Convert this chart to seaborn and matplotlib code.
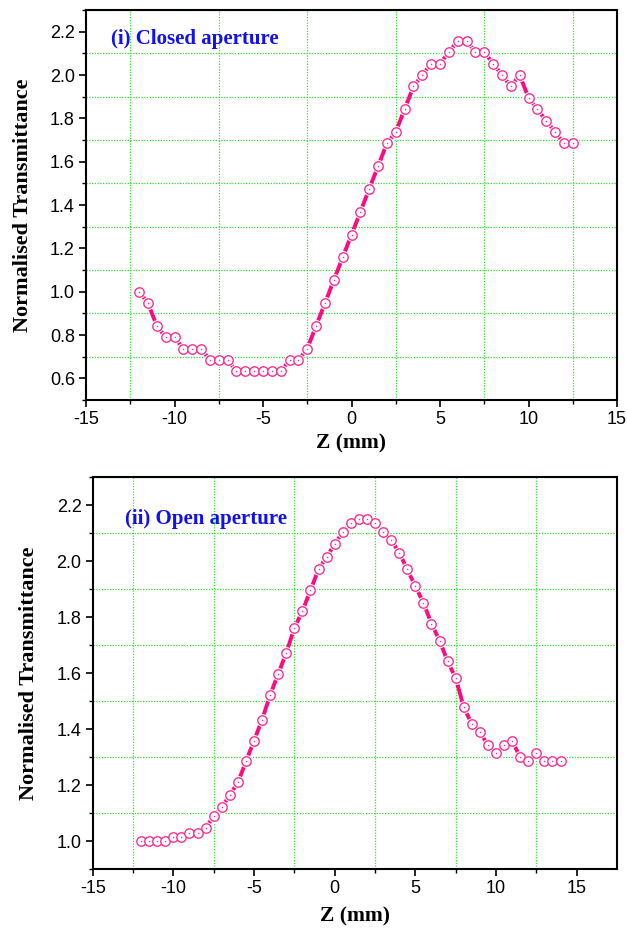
import matplotlib
matplotlib.use("Agg")
import numpy as np
import pandas as pd
import matplotlib.pyplot as plt
import seaborn as sns
from matplotlib.ticker import FixedLocator

# ---------------- data ----------------
z_closed = [-12, -11.5, -11, -10.5, -10, -9.5, -9, -8.5, -8, -7.5, -7, -6.5, -6, -5.5, -5,
            -4.5, -4, -3.5, -3, -2.5, -2, -1.5, -1, -0.5, 0, 0.5, 1, 1.5, 2, 2.5, 3, 3.5,
            4, 4.5, 5, 5.5, 6, 6.5, 7, 7.5, 8, 8.5, 9, 9.5, 10, 10.5, 11, 11.5, 12, 12.5]
t_closed = [1.000, 0.947, 0.842, 0.789, 0.789, 0.737, 0.737, 0.737, 0.684, 0.684, 0.684,
            0.632, 0.632, 0.632, 0.632, 0.632, 0.632, 0.684, 0.684, 0.737, 0.842, 0.947,
            1.053, 1.158, 1.263, 1.368, 1.474, 1.579, 1.684, 1.737, 1.842, 1.947, 2.000,
            2.053, 2.053, 2.105, 2.158, 2.158, 2.105, 2.105, 2.053, 2.000, 1.947, 2.000,
            1.895, 1.842, 1.789, 1.737, 1.684, 1.684]

z_open = [-12, -11.5, -11, -10.5, -10, -9.5, -9, -8.5, -8, -7.5, -7, -6.5, -6, -5.5, -5,
          -4.5, -4, -3.5, -3, -2.5, -2, -1.5, -1, -0.5, 0, 0.5, 1, 1.5, 2, 2.5, 3, 3.5,
          4, 4.5, 5, 5.5, 6, 6.5, 7, 7.5, 8, 8.5, 9, 9.5, 10, 10.5, 11, 11.5, 12, 12.5,
          13, 13.5, 14]
t_open = [1.000, 1.000, 1.000, 1.000, 1.015, 1.015, 1.030, 1.030, 1.045, 1.090, 1.120,
          1.164, 1.209, 1.284, 1.358, 1.433, 1.522, 1.597, 1.672, 1.761, 1.821, 1.896,
          1.970, 2.015, 2.060, 2.104, 2.134, 2.149, 2.149, 2.134, 2.104, 2.075, 2.030,
          1.970, 1.910, 1.851, 1.776, 1.716, 1.642, 1.582, 1.478, 1.418, 1.388, 1.343,
          1.313, 1.343, 1.358, 1.299, 1.284, 1.313, 1.284, 1.284, 1.284]

x_major = [-15, -10, -5, 0, 5, 10, 15]
x_minor = [-12.5, -7.5, -2.5, 2.5, 7.5, 12.5]
y_major_top = [0.6, 0.8, 1.0, 1.2, 1.4, 1.6, 1.8, 2.0, 2.2]
y_minor_top = [0.5, 0.7, 0.9, 1.1, 1.3, 1.5, 1.7, 1.9, 2.1, 2.3]
y_major_bot = [1.0, 1.2, 1.4, 1.6, 1.8, 2.0, 2.2]
y_minor_bot = [0.9, 1.1, 1.3, 1.5, 1.7, 1.9, 2.1, 2.3]

titles = ["(i) Closed aperture", "(ii) Open aperture"]
xlabel = "Z (mm)"
ylabel = "Normalised Transmittance"

LINE = "#FF0A80"
MARK = "#FF3090"
GRID = "#33E833"
TXT = "#1010F0"

sns.set_theme(style="white")
plt.rcParams["font.family"] = ["Liberation Sans", "DejaVu Sans"]
plt.rcParams["text.color"] = "black"
plt.rcParams["axes.labelcolor"] = "black"
plt.rcParams["xtick.color"] = "black"
plt.rcParams["ytick.color"] = "black"

fig = plt.figure(figsize=(6.27, 9.30), dpi=100)
W, H = 627.0, 930.0
ax1 = fig.add_axes([86 / W, 1 - 400 / H, (617 - 86) / W, 390 / H])
ax2 = fig.add_axes([92.7 / W, 1 - 869 / H, (617 - 92.7) / W, 392 / H])


def draw(ax, z, t, xlim, ylim, ymaj, ymin, title, tpos, ylab_x, xpad):
    df = pd.DataFrame({"z": z, "t": t})
    sns.lineplot(data=df, x="z", y="t", ax=ax, color=LINE, lw=2.8, sort=False, zorder=3)
    sns.scatterplot(data=df, x="z", y="t", ax=ax, s=85, color="white",
                    edgecolor="white", linewidth=0, zorder=4)
    sns.scatterplot(data=df, x="z", y="t", ax=ax, s=46, facecolor="white",
                    edgecolor=MARK, linewidth=1.0, zorder=5)
    sns.scatterplot(data=df, x="z", y="t", ax=ax, s=1.2, color=MARK,
                    edgecolor=MARK, linewidth=0, zorder=6)
    ax.set_xlim(*xlim)
    ax.set_ylim(*ylim)
    ax.xaxis.set_major_locator(FixedLocator(x_major))
    ax.xaxis.set_minor_locator(FixedLocator(x_minor))
    ax.yaxis.set_major_locator(FixedLocator(ymaj))
    ax.yaxis.set_minor_locator(FixedLocator(ymin))
    ax.set_xticklabels([str(v) for v in x_major])
    ax.set_yticklabels([f"{v:.1f}" for v in ymaj])
    ax.grid(False)
    ax.grid(which="minor", color=GRID, ls=(0, (1, 1.2)), lw=0.9, zorder=1)
    ax.tick_params(which="major", direction="out", length=5, width=1.2,
                   labelsize=13, bottom=True, left=True, top=False, right=False, pad=3)
    ax.tick_params(which="minor", direction="out", length=3, width=1.0,
                   bottom=True, left=True, top=False, right=False)
    for s in ax.spines.values():
        s.set_visible(True)
        s.set_color("black")
        s.set_linewidth(1.5)
    ax.set_xlabel(xlabel, family=["Liberation Serif"], weight="bold", size=15.5, labelpad=xpad)
    ax.set_ylabel(ylabel, family=["Liberation Serif"], weight="bold", size=16)
    ax.yaxis.set_label_coords(ylab_x, 0.5)
    ax.text(tpos[0], tpos[1], title, transform=ax.transAxes, ha="left", va="center",
            family=["Liberation Serif"], weight="bold", size=15, color=TXT)


draw(ax1, z_closed, t_closed, (-15, 15), (0.5, 2.3), y_major_top, y_minor_top,
     titles[0], (0.047, 0.926), -0.10, 4)
draw(ax2, z_open, t_open, (-15, 17.5), (0.9, 2.3), y_major_bot, y_minor_bot,
     titles[1], (0.0616, 0.893), -0.103, 7)

fig.savefig("out.png", dpi=100)
